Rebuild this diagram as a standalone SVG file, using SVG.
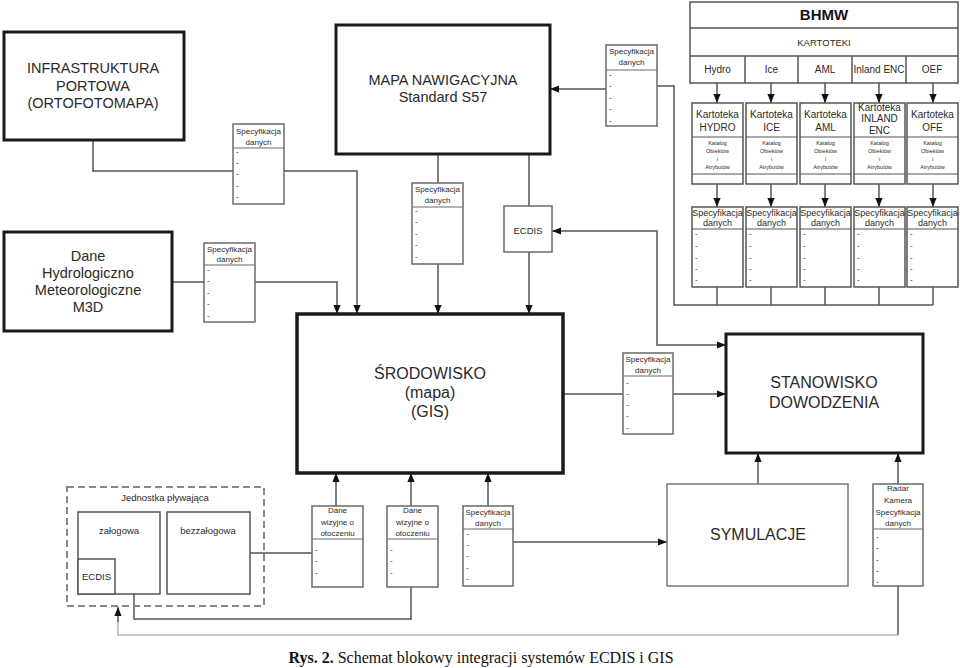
<svg xmlns="http://www.w3.org/2000/svg" width="960" height="668" viewBox="0 0 960 668">
<style>
text{font-family:"Liberation Sans",Arial,sans-serif;fill:#2a2a2a;text-anchor:middle}
.big{font-size:14.5px}
.huge{font-size:16px}
.thick{fill:#fff;stroke:#1a1a1a;stroke-width:3}
.thin{fill:#fff;stroke:#6a6a6a;stroke-width:1.5}
.tbl{fill:#fff;stroke:#555;stroke-width:1.5}
.sp{font-size:8px}
.sp2{font-size:9px}
.dash{font-size:8px;text-anchor:start}
.tiny{font-size:5.5px}
.kt{font-size:10px}
.con{fill:none;stroke:#555;stroke-width:1.5}
.arr{marker-end:url(#ah)}
.light{fill:none;stroke:#b5b5b5;stroke-width:1.5}
.dashed{fill:none;stroke:#888;stroke-width:2;stroke-dasharray:7 4}
</style>
<defs>
<marker id="ah" viewBox="0 0 10 8" refX="10" refY="4" markerWidth="9" markerHeight="8" markerUnits="userSpaceOnUse" orient="auto-start-reverse">
<path d="M0,0 L10,4 L0,8 z" fill="#111"/>
</marker>
</defs>
<rect width="960" height="668" fill="#fff"/>

<g id="connectors">
<path class="con" d="M93,140 V171 H233"/>
<path class="con arr" d="M284,171 H357 V314"/>
<path class="con" d="M172,282 H204"/>
<path class="con arr" d="M255,282 H337 V314"/>
<path class="con" d="M438,154 V183"/>
<path class="con arr" d="M438,264 V314"/>
<path class="con" d="M529,154 V206"/>
<path class="con arr" d="M529,252 V314"/>
<path class="con arr" d="M606,89 H550"/>
<path class="con" d="M657,86 H674 V305 H933"/>
<path class="con" d="M717,287 V305 M771,287 V305 M825,287 V305 M879,287 V305 M933,287 V305"/>
<path class="con arr" d="M552,231 H657 V345 H726" marker-start="url(#ah)"/>
<path class="con" d="M563,394 H623"/>
<path class="con arr" d="M673,394 H726"/>
<path class="con arr" d="M758,484 V453"/>
<path class="con arr" d="M898,484 V453"/>
<path class="con" d="M898,586 V635"/>
<path class="light" d="M898,635 H118 V620"/>
<path class="con arr" d="M118,622 V607"/>
<path class="con" d="M250,553 H312"/>
<path class="con arr" d="M336,506 V473"/>
<path class="con" d="M134,594 V619 H411 V587"/>
<path class="con arr" d="M411,506 V473"/>
<path class="con arr" d="M488,506 V473"/>
<path class="con arr" d="M513,542 H667"/>
<path class="con arr" d="M717,83 V103"/>
<path class="con arr" d="M771,83 V103"/>
<path class="con arr" d="M825,83 V103"/>
<path class="con arr" d="M879,83 V103"/>
<path class="con arr" d="M933,83 V103"/>
<path class="con arr" d="M717,184 V207"/>
<path class="con arr" d="M771,184 V207"/>
<path class="con arr" d="M825,184 V207"/>
<path class="con arr" d="M879,184 V207"/>
<path class="con arr" d="M933,184 V207"/>
</g>

<g id="infrastruktura">
<rect class="thick" x="4" y="32" width="180" height="108"/>
<text class="big" x="93" y="73">INFRASTRUKTURA</text>
<text class="big" x="93" y="91">PORTOWA</text>
<text class="big" x="93" y="108">(ORTOFOTOMAPA)</text>
</g>

<g id="dane-hm">
<rect class="thick" x="4" y="232" width="168" height="99"/>
<text class="big" x="88" y="261">Dane</text>
<text class="big" x="88" y="278">Hydrologiczno</text>
<text class="big" x="88" y="295">Meteorologiczne</text>
<text class="big" x="88" y="312">M3D</text>
</g>

<g id="mapa">
<rect class="thick" x="336" y="25" width="214" height="129"/>
<text class="big" x="443" y="85">MAPA NAWIGACYJNA</text>
<text class="big" x="443" y="102">Standard S57</text>
</g>

<g id="ecdis">
<rect class="thin" x="504" y="206" width="48" height="46"/>
<text x="528" y="234" style="font-size:9.5px">ECDIS</text>
</g>

<g id="srodowisko">
<rect class="thick" x="297" y="314" width="266" height="159" style="stroke-width:3.5"/>
<text class="huge" x="430" y="379">ŚRODOWISKO</text>
<text class="huge" x="430" y="398">(mapa)</text>
<text class="huge" x="430" y="417">(GIS)</text>
</g>

<g id="stanowisko">
<rect class="thick" x="726" y="334" width="197" height="119"/>
<text class="huge" x="824" y="388">STANOWISKO</text>
<text class="huge" x="824" y="408">DOWODZENIA</text>
</g>

<g id="symulacje">
<rect class="thin" x="667" y="484" width="181" height="102" style="stroke:#777"/>
<text class="huge" x="758" y="540">SYMULACJE</text>
</g>

<g id="spec-infra">
<rect class="thin" x="233" y="124" width="51" height="80"/>
<line x1="233" y1="148" x2="284" y2="148" stroke="#6a6a6a" stroke-width="1.2"/>
<text class="sp" x="258.5" y="134">Specyfikacja</text>
<text class="sp" x="258.5" y="145">danych</text>
<text class="dash" x="236" y="154">-</text><text class="dash" x="236" y="165">-</text><text class="dash" x="236" y="176">-</text><text class="dash" x="236" y="188">-</text><text class="dash" x="236" y="199">-</text>
</g>

<g id="spec-dane">
<rect class="thin" x="204" y="243" width="51" height="79"/>
<line x1="204" y1="265" x2="255" y2="265" stroke="#6a6a6a" stroke-width="1.2"/>
<text class="sp" x="229.5" y="252">Specyfikacja</text>
<text class="sp" x="229.5" y="262">danych</text>
<text class="dash" x="207" y="272">-</text><text class="dash" x="207" y="283">-</text><text class="dash" x="207" y="295">-</text><text class="dash" x="207" y="306">-</text><text class="dash" x="207" y="318">-</text>
</g>

<g id="spec-mapa">
<rect class="thin" x="412" y="183" width="51" height="81"/>
<line x1="412" y1="207" x2="463" y2="207" stroke="#6a6a6a" stroke-width="1.2"/>
<text class="sp" x="437.5" y="192">Specyfikacja</text>
<text class="sp" x="437.5" y="203">danych</text>
<text class="dash" x="415" y="213">-</text><text class="dash" x="415" y="224">-</text><text class="dash" x="415" y="236">-</text><text class="dash" x="415" y="247">-</text><text class="dash" x="415" y="259">-</text>
</g>

<g id="spec-top">
<rect class="thin" x="606" y="45" width="51" height="81"/>
<line x1="606" y1="70" x2="657" y2="70" stroke="#6a6a6a" stroke-width="1.2"/>
<text class="sp" x="631.5" y="54">Specyfikacja</text>
<text class="sp" x="631.5" y="65">danych</text>
<text class="dash" x="609" y="77">-</text><text class="dash" x="609" y="88">-</text><text class="dash" x="609" y="100">-</text><text class="dash" x="609" y="111">-</text><text class="dash" x="609" y="123">-</text>
</g>

<g id="spec-stan">
<rect class="thin" x="623" y="353" width="50" height="81"/>
<line x1="623" y1="376" x2="673" y2="376" stroke="#6a6a6a" stroke-width="1.2"/>
<text class="sp" x="648" y="362">Specyfikacja</text>
<text class="sp" x="648" y="373">danych</text>
<text class="dash" x="626" y="385">-</text><text class="dash" x="626" y="396">-</text><text class="dash" x="626" y="407">-</text><text class="dash" x="626" y="418">-</text><text class="dash" x="626" y="430">-</text>
</g>

<g id="spec-sym">
<rect class="thin" x="463" y="506" width="50" height="80"/>
<line x1="463" y1="529" x2="513" y2="529" stroke="#6a6a6a" stroke-width="1.2"/>
<text class="sp" x="488" y="515">Specyfikacja</text>
<text class="sp" x="488" y="526">danych</text>
<text class="dash" x="466" y="536">-</text><text class="dash" x="466" y="547">-</text><text class="dash" x="466" y="558">-</text><text class="dash" x="466" y="570">-</text><text class="dash" x="466" y="581">-</text>
</g>

<g id="dane-wizyjne-1">
<rect class="thin" x="312" y="506" width="51" height="81"/>
<line x1="312" y1="539" x2="363" y2="539" stroke="#6a6a6a" stroke-width="1.2"/>
<text class="sp" x="337.5" y="513">Dane</text>
<text class="sp" x="337.5" y="525">wizyjne o</text>
<text class="sp" x="337.5" y="536">otoczeniu</text>
<text class="dash" x="315" y="552">-</text><text class="dash" x="315" y="563">-</text><text class="dash" x="315" y="575">-</text>
</g>

<g id="dane-wizyjne-2">
<rect class="thin" x="387" y="506" width="51" height="81"/>
<line x1="387" y1="539" x2="438" y2="539" stroke="#6a6a6a" stroke-width="1.2"/>
<text class="sp" x="412.5" y="513">Dane</text>
<text class="sp" x="412.5" y="525">wizyjne o</text>
<text class="sp" x="412.5" y="536">otoczeniu</text>
<text class="dash" x="390" y="552">-</text><text class="dash" x="390" y="563">-</text><text class="dash" x="390" y="575">-</text>
</g>

<g id="radar">
<rect class="thin" x="873" y="484" width="50" height="102"/>
<line x1="873" y1="529" x2="923" y2="529" stroke="#6a6a6a" stroke-width="1.2"/>
<text class="sp" x="898" y="491">Radar</text>
<text class="sp" x="898" y="503">Kamera</text>
<text class="sp" x="898" y="515">Specyfikacja</text>
<text class="sp" x="898" y="526">danych</text>
<text class="dash" x="876" y="539">-</text><text class="dash" x="876" y="550">-</text><text class="dash" x="876" y="562">-</text><text class="dash" x="876" y="573">-</text><text class="dash" x="876" y="584">-</text>
</g>

<g id="jednostka">
<rect class="dashed" x="67" y="487" width="197" height="119"/>
<text x="165" y="501" style="font-size:9.5px">Jednostka pływająca</text>
<rect class="thin" x="78" y="512" width="82" height="82" style="stroke:#555"/>
<text x="119" y="534" style="font-size:9.5px">załogowa</text>
<rect class="thin" x="78" y="559" width="37" height="35" style="stroke:#555"/>
<text x="96.5" y="580" style="font-size:9.5px">ECDIS</text>
<rect class="thin" x="167" y="512" width="83" height="82" style="stroke:#555"/>
<text x="208" y="534" style="font-size:9.5px">bezzałogowa</text>
</g>

<g id="bhmw">
<rect class="tbl" x="690" y="2" width="268" height="81"/>
<line x1="690" y1="28" x2="958" y2="28" stroke="#555" stroke-width="1.5"/>
<line x1="690" y1="56" x2="958" y2="56" stroke="#555" stroke-width="1.5"/>
<path d="M745,56 V83 M798,56 V83 M852,56 V83 M906,56 V83" stroke="#555" stroke-width="1.5"/>
<text x="824" y="20" style="font-size:15px;font-weight:bold;fill:#111">BHMW</text>
<text x="824" y="46" style="font-size:9.5px">KARTOTEKI</text>
<text class="kt" x="717.5" y="73">Hydro</text>
<text class="kt" x="771.5" y="73">Ice</text>
<text class="kt" x="825" y="73">AML</text>
<text class="kt" x="879" y="73">Inland ENC</text>
<text class="kt" x="932" y="73">OEF</text>
</g>

<g id="kartoteka-hydro">
<rect class="tbl" x="692" y="103" width="51" height="81"/>
<path d="M692,137 H743 M692,174 H743" stroke="#555" stroke-width="1.2"/>
<text class="kt" x="717.5" y="118">Kartoteka</text><text class="kt" x="717.5" y="131">HYDRO</text>
<text class="tiny" x="717.5" y="145">Katalog</text><text class="tiny" x="717.5" y="153">Obiektów</text><text class="tiny" x="717.5" y="161">i</text><text class="tiny" x="717.5" y="169">Atrybutów</text>
</g>
<g id="kartoteka-ice">
<rect class="tbl" x="746" y="103" width="51" height="81"/>
<path d="M746,137 H797 M746,174 H797" stroke="#555" stroke-width="1.2"/>
<text class="kt" x="771.5" y="118">Kartoteka</text><text class="kt" x="771.5" y="131">ICE</text>
<text class="tiny" x="771.5" y="145">Katalog</text><text class="tiny" x="771.5" y="153">Obiektów</text><text class="tiny" x="771.5" y="161">i</text><text class="tiny" x="771.5" y="169">Atrybutów</text>
</g>
<g id="kartoteka-aml">
<rect class="tbl" x="800" y="103" width="51" height="81"/>
<path d="M800,137 H851 M800,174 H851" stroke="#555" stroke-width="1.2"/>
<text class="kt" x="825.5" y="118">Kartoteka</text><text class="kt" x="825.5" y="131">AML</text>
<text class="tiny" x="825.5" y="145">Katalog</text><text class="tiny" x="825.5" y="153">Obiektów</text><text class="tiny" x="825.5" y="161">i</text><text class="tiny" x="825.5" y="169">Atrybutów</text>
</g>
<g id="kartoteka-inland">
<rect class="tbl" x="854" y="103" width="51" height="81"/>
<path d="M854,137 H905 M854,174 H905" stroke="#555" stroke-width="1.2"/>
<text class="kt" x="879.5" y="111">Kartoteka</text><text class="kt" x="879.5" y="122">INLAND</text><text class="kt" x="879.5" y="134">ENC</text>
<text class="tiny" x="879.5" y="145">Katalog</text><text class="tiny" x="879.5" y="153">Obiektów</text><text class="tiny" x="879.5" y="161">i</text><text class="tiny" x="879.5" y="169">Atrybutów</text>
</g>
<g id="kartoteka-ofe">
<rect class="tbl" x="907" y="103" width="51" height="81"/>
<path d="M907,137 H958 M907,174 H958" stroke="#555" stroke-width="1.2"/>
<text class="kt" x="932.5" y="118">Kartoteka</text><text class="kt" x="932.5" y="131">OFE</text>
<text class="tiny" x="932.5" y="145">Katalog</text><text class="tiny" x="932.5" y="153">Obiektów</text><text class="tiny" x="932.5" y="161">i</text><text class="tiny" x="932.5" y="169">Atrybutów</text>
</g>

<g id="spec-hydro">
<rect class="tbl" x="692" y="207" width="51" height="80"/>
<line x1="692" y1="229" x2="743" y2="229" stroke="#555" stroke-width="1.2"/>
<text class="sp2" x="717.5" y="216">Specyfikacja</text><text class="sp2" x="717.5" y="226">danych</text>
<text class="dash" x="695" y="236">-</text><text class="dash" x="695" y="248">-</text><text class="dash" x="695" y="260">-</text><text class="dash" x="695" y="271">-</text><text class="dash" x="695" y="282">-</text>
</g>
<g id="spec-ice">
<rect class="tbl" x="746" y="207" width="51" height="80"/>
<line x1="746" y1="229" x2="797" y2="229" stroke="#555" stroke-width="1.2"/>
<text class="sp2" x="771.5" y="216">Specyfikacja</text><text class="sp2" x="771.5" y="226">danych</text>
<text class="dash" x="749" y="236">-</text><text class="dash" x="749" y="248">-</text><text class="dash" x="749" y="260">-</text><text class="dash" x="749" y="271">-</text><text class="dash" x="749" y="282">-</text>
</g>
<g id="spec-aml">
<rect class="tbl" x="800" y="207" width="51" height="80"/>
<line x1="800" y1="229" x2="851" y2="229" stroke="#555" stroke-width="1.2"/>
<text class="sp2" x="825.5" y="216">Specyfikacja</text><text class="sp2" x="825.5" y="226">danych</text>
<text class="dash" x="803" y="236">-</text><text class="dash" x="803" y="248">-</text><text class="dash" x="803" y="260">-</text><text class="dash" x="803" y="271">-</text><text class="dash" x="803" y="282">-</text>
</g>
<g id="spec-inland">
<rect class="tbl" x="854" y="207" width="51" height="80"/>
<line x1="854" y1="229" x2="905" y2="229" stroke="#555" stroke-width="1.2"/>
<text class="sp2" x="879.5" y="216">Specyfikacja</text><text class="sp2" x="879.5" y="226">danych</text>
<text class="dash" x="857" y="236">-</text><text class="dash" x="857" y="248">-</text><text class="dash" x="857" y="260">-</text><text class="dash" x="857" y="271">-</text><text class="dash" x="857" y="282">-</text>
</g>
<g id="spec-ofe">
<rect class="tbl" x="907" y="207" width="51" height="80"/>
<line x1="907" y1="229" x2="958" y2="229" stroke="#555" stroke-width="1.2"/>
<text class="sp2" x="932.5" y="216">Specyfikacja</text><text class="sp2" x="932.5" y="226">danych</text>
<text class="dash" x="910" y="236">-</text><text class="dash" x="910" y="248">-</text><text class="dash" x="910" y="260">-</text><text class="dash" x="910" y="271">-</text><text class="dash" x="910" y="282">-</text>
</g>

<g id="caption">
<text x="481" y="663" style="font-family:'Liberation Serif','Times New Roman',serif;font-size:16px;fill:#111"><tspan font-weight="bold">Rys. 2.</tspan> Schemat blokowy integracji systemów ECDIS i GIS</text>
</g>
</svg>
